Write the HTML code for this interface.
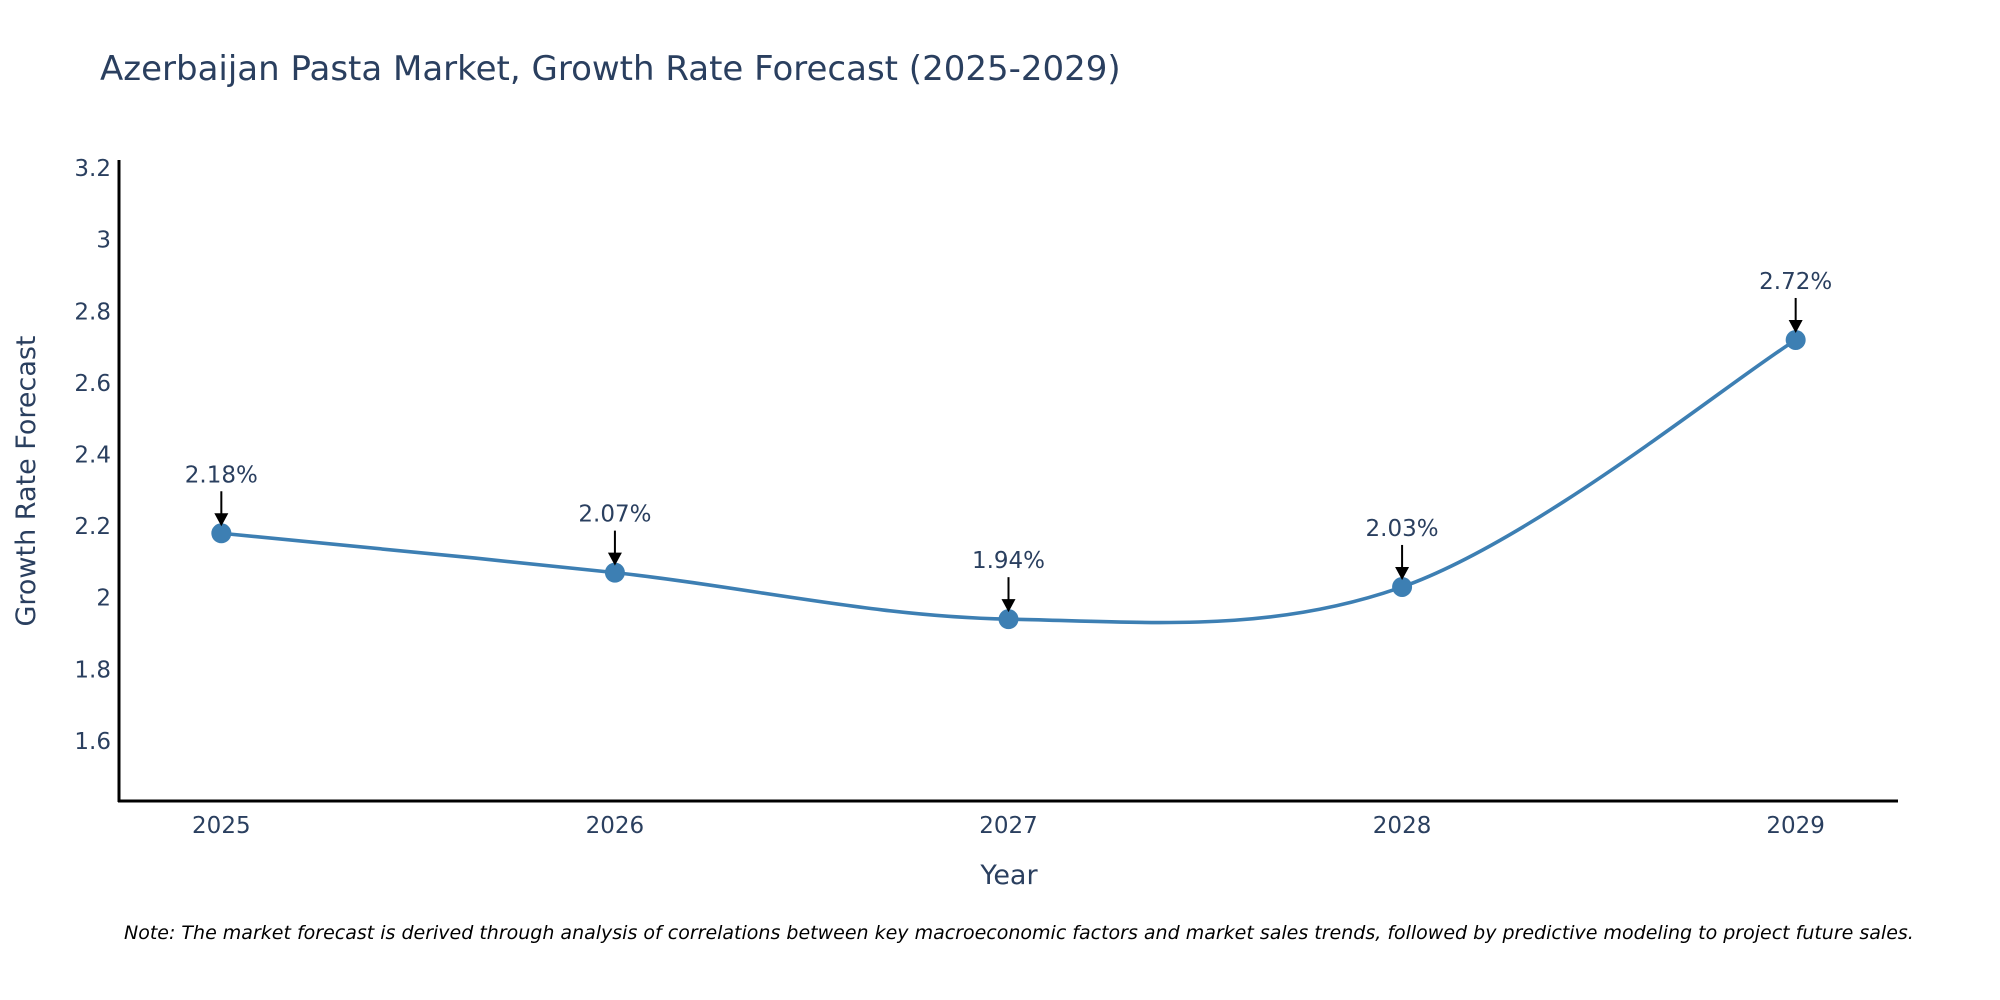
<!DOCTYPE html>
<html><head><meta charset="utf-8">
<style>
html,body{margin:0;padding:0;background:#fff;}
svg{display:block;font-family:"DejaVu Sans","Liberation Sans",sans-serif;}
</style></head>
<body>
<svg id="chart" width="2000" height="1000" viewBox="0 0 2000 1000">
<rect width="2000" height="1000" fill="#fff"/>
<text x="100" y="80" font-size="34" fill="#2a3f5f">Azerbaijan Pasta Market, Growth Rate Forecast (2025-2029)</text>
<g id="yticks"></g>
<g id="xticks"></g>
<g id="series"></g>
<g id="annots"></g>
<line x1="119" y1="160" x2="119" y2="802" stroke="#000" stroke-width="3"/>
<line x1="118" y1="801" x2="1898" y2="801" stroke="#000" stroke-width="3"/>
<text x="1009" y="884" font-size="27" fill="#2a3f5f" text-anchor="middle">Year</text>
<text transform="translate(35,481) rotate(-90)" font-size="27" fill="#2a3f5f" text-anchor="middle">Growth Rate Forecast</text>
<text x="124" y="939" font-size="19" font-style="italic" fill="#000">Note: The market forecast is derived through analysis of correlations between key macroeconomic factors and market sales trends, followed by predictive modeling to project future sales.</text>
</svg>
<script>
const years = [2025, 2026, 2027, 2028, 2029];
const rates = [2.18, 2.07, 1.94, 2.03, 2.72];
const rateLabels = ["2.18%", "2.07%", "1.94%", "2.03%", "2.72%"];
const yTickValues = [1.6, 1.8, 2, 2.2, 2.4, 2.6, 2.8, 3, 3.2];
const yTickLabels = ["1.6", "1.8", "2", "2.2", "2.4", "2.6", "2.8", "3", "3.2"];

const NS = "http://www.w3.org/2000/svg";
const X0 = 119, X1 = 1898, Y0 = 801, Y1 = 161;
const xMin = 2024.74, xMax = 2029.26, yMin = 1.432, yMax = 3.22;
function xs(v){ return X0 + (v - xMin) / (xMax - xMin) * (X1 - X0); }
function ys(v){ return Y0 - (v - yMin) / (yMax - yMin) * (Y0 - Y1); }
function mk(tag, attrs, parent){ const e = document.createElementNS(NS, tag); for (const k in attrs) e.setAttribute(k, attrs[k]); parent.appendChild(e); return e; }

const yg = document.getElementById('yticks');
yTickValues.forEach((v, i) => {
  const t = mk('text', {x: 111, y: ys(v) + 8, 'font-size': 23, fill: '#2a3f5f', 'text-anchor': 'end'}, yg);
  t.textContent = yTickLabels[i];
  
  
});
const xg = document.getElementById('xticks');
years.forEach(v => {
  const t = mk('text', {x: xs(v), y: 833, 'font-size': 23, fill: '#2a3f5f', 'text-anchor': 'middle'}, xg);
  t.textContent = String(v);
  
  
});

const pts = years.map((y, i) => [xs(y), ys(rates[i])]);
let d = `M${pts[0][0]},${pts[0][1]}`;
const tns = 0.17;
for (let i = 0; i < pts.length - 1; i++) {
  const p0 = pts[i - 1] || pts[i], p1 = pts[i], p2 = pts[i + 1], p3 = pts[i + 2] || pts[i + 1];
  const c1 = [p1[0] + (p2[0] - p0[0]) * tns, p1[1] + (p2[1] - p0[1]) * tns];
  const c2 = [p2[0] - (p3[0] - p1[0]) * tns, p2[1] - (p3[1] - p1[1]) * tns];
  d += ` C${c1[0]},${c1[1]} ${c2[0]},${c2[1]} ${p2[0]},${p2[1]}`;
}
const sg = document.getElementById('series');
const path = mk('path', {d: d, fill: 'none', stroke: '#3d7fb3', 'stroke-width': 3.6}, sg);


pts.forEach(p => {
  const c = mk('circle', {cx: p[0], cy: p[1], r: 10, fill: '#3d7fb3'}, sg);
  
  
});

const ag = document.getElementById('annots');
pts.forEach((p, i) => {
  const l = mk('line', {x1: p[0], y1: p[1] - 42, x2: p[0], y2: p[1] - 18, stroke: '#000', 'stroke-width': 2}, ag);
  
  
  const h = mk('polygon', {points: `${p[0]-7},${p[1]-20} ${p[0]+7},${p[1]-20} ${p[0]},${p[1]-7}`, fill: '#000'}, ag);
  
  
  const t = mk('text', {x: p[0], y: p[1] - 51, 'font-size': 23, fill: '#2a3f5f', 'text-anchor': 'middle'}, ag);
  t.textContent = rateLabels[i];
  
  
});
</script>
</body></html>
